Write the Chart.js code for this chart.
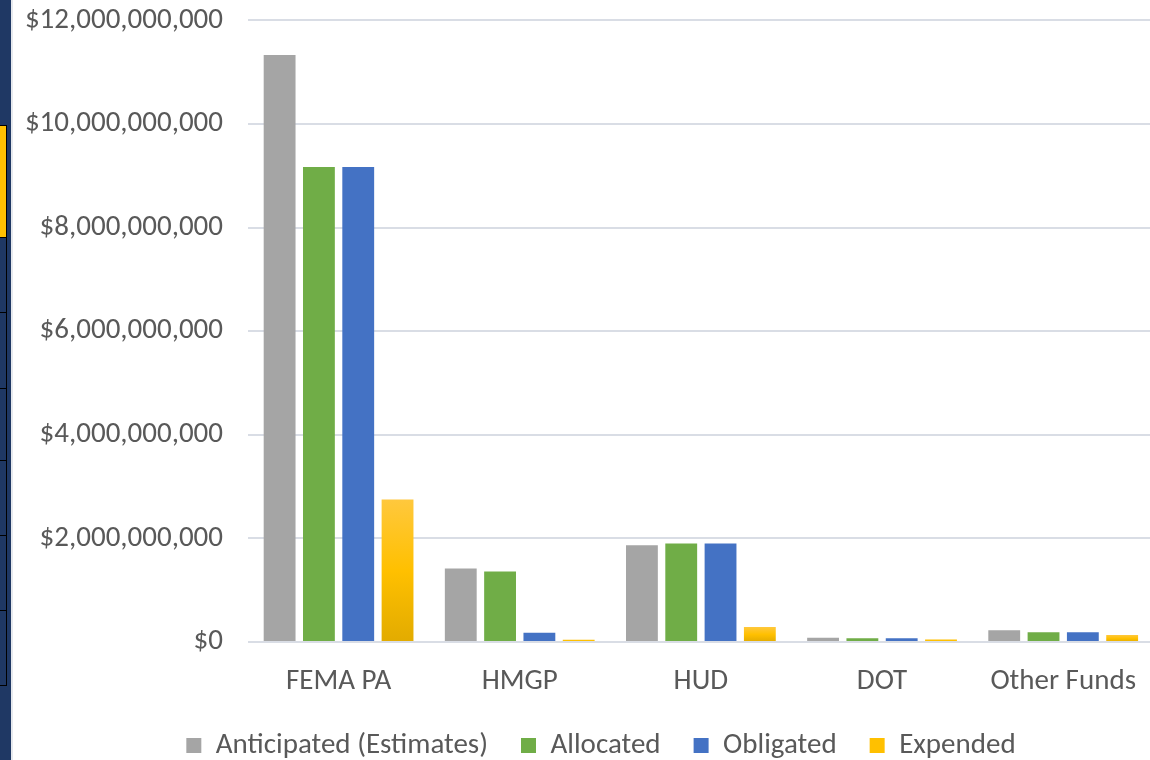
<!DOCTYPE html>
<html>
<head>
<meta charset="utf-8">
<script src="https://cdn.jsdelivr.net/npm/chart.js@4/dist/chart.umd.min.js"></script>
<style>
  html, body { margin: 0; padding: 0; background: #fff; overflow: hidden; }
  #wrap { position: relative; width: 1158px; height: 760px; }
  #strip { position: absolute; left: 0; top: 0; width: 11px; height: 760px; background: #1F3864; border-right: 2px solid #e6e9ee; }
  .cell { position: absolute; left: 0; width: 6px; background: #1F3864; border: 1px solid #000; border-left: none; }
  .cell.gold { background: #FFC000; }
</style>
</head>
<body>
<div id="wrap">
  <canvas id="myChart1" width="1158" height="760"></canvas>
  <div id="strip">
    <div class="cell gold" style="top:125px;height:111px"></div>
    <div class="cell" style="top:237px;height:74px"></div>
    <div class="cell" style="top:312px;height:75px"></div>
    <div class="cell" style="top:388px;height:71px"></div>
    <div class="cell" style="top:460px;height:74px"></div>
    <div class="cell" style="top:535px;height:74px"></div>
    <div class="cell" style="top:610px;height:74px"></div>
  </div>
</div>
<script>
const categories = ['FEMA PA', 'HMGP', 'HUD', 'DOT', 'Other Funds'];
const seriesNames = ['Anticipated (Estimates)', 'Allocated', 'Obligated', 'Expended'];
const anticipated = [11.33e9, 1.42e9, 1.87e9, 0.08e9, 0.225e9];
const allocated = [9.17e9, 1.36e9, 1.90e9, 0.07e9, 0.19e9];
const obligated = [9.17e9, 0.18e9, 1.90e9, 0.07e9, 0.19e9];
const expended = [2.75e9, 0.045e9, 0.29e9, 0.05e9, 0.135e9];
const yTicks = [0, 2e9, 4e9, 6e9, 8e9, 10e9, 12e9];

const FONT = 'Carlito, Lato, "Open Sans", sans-serif';
const TEXT = '#595959';
const FSIZE = 29;

function yellowFill(c){
  const ch = c.chart;
  const y = ch.scales && ch.scales.y;
  if(!y || !ch.chartArea || c.raw === undefined) return '#FFC000';
  const top = y.getPixelForValue(c.raw);
  const bot = y.getPixelForValue(0);
  if(!isFinite(top) || !isFinite(bot) || bot - top < 4) return '#FFC000';
  const g = ch.ctx.createLinearGradient(0, top, 0, bot);
  g.addColorStop(0, '#FFC83D');
  g.addColorStop(0.5, '#FFC000');
  g.addColorStop(1, '#E2AB00');
  return g;
}

const legendColors = ['#A5A5A5', '#70AD47', '#4472C4', '#FFC000'];

// legend in the original sits a little right of the canvas centre
const legendShift = {
  id: 'legendShift',
  afterLayout: function(chart){
    if(chart.legend){ chart.legend.left += 22; chart.legend.right += 22; }
  }
};

const ctx = document.getElementById('myChart1');
new Chart(ctx, {
  type: 'bar',
  data: {
    labels: categories,
    datasets: [
      { label: seriesNames[0], data: anticipated, backgroundColor: '#A5A5A5' },
      { label: seriesNames[1], data: allocated, backgroundColor: '#70AD47' },
      { label: seriesNames[2], data: obligated, backgroundColor: '#4472C4' },
      { label: seriesNames[3], data: expended, backgroundColor: yellowFill }
    ]
  },
  plugins: [legendShift],
  options: {
    responsive: false,
    animation: false,
    categoryPercentage: 0.868,
    barPercentage: 0.81,
    layout: { padding: { top: 0, left: 0, right: 0, bottom: -10 } },
    plugins: {
      tooltip: { enabled: false },
      legend: {
        position: 'bottom',
        labels: {
          font: { family: FONT, size: FSIZE },
          color: TEXT,
          boxWidth: 15,
          boxHeight: 15,
          padding: 33,
          generateLabels: function(chart){
            return chart.data.datasets.map(function(ds, i){
              return {
                text: ds.label,
                fillStyle: legendColors[i],
                strokeStyle: legendColors[i],
                lineWidth: 0,
                fontColor: TEXT,
                datasetIndex: i,
                hidden: false
              };
            });
          }
        }
      }
    },
    scales: {
      x: {
        afterFit: function(s){ s.height = 56; },
        grid: { display: false, drawTicks: false },
        border: { display: false },
        ticks: { font: { family: FONT, size: FSIZE }, color: TEXT, padding: 22 }
      },
      y: {
        min: 0,
        max: 12e9,
        afterFit: function(s){ s.width = 248; },
        afterBuildTicks: function(s){ s.ticks = yTicks.map(function(v){ return { value: v }; }); },
        grid: { color: '#D9DDE5', lineWidth: 2, drawTicks: true, tickLength: 22, tickColor: 'rgba(0,0,0,0)' },
        border: { display: false },
        ticks: {
          font: { family: FONT, size: FSIZE },
          color: TEXT,
          padding: 3,
          callback: function(v){ return '$' + Number(v).toLocaleString('en-US'); }
        }
      }
    }
  }
});
</script>
</body>
</html>
